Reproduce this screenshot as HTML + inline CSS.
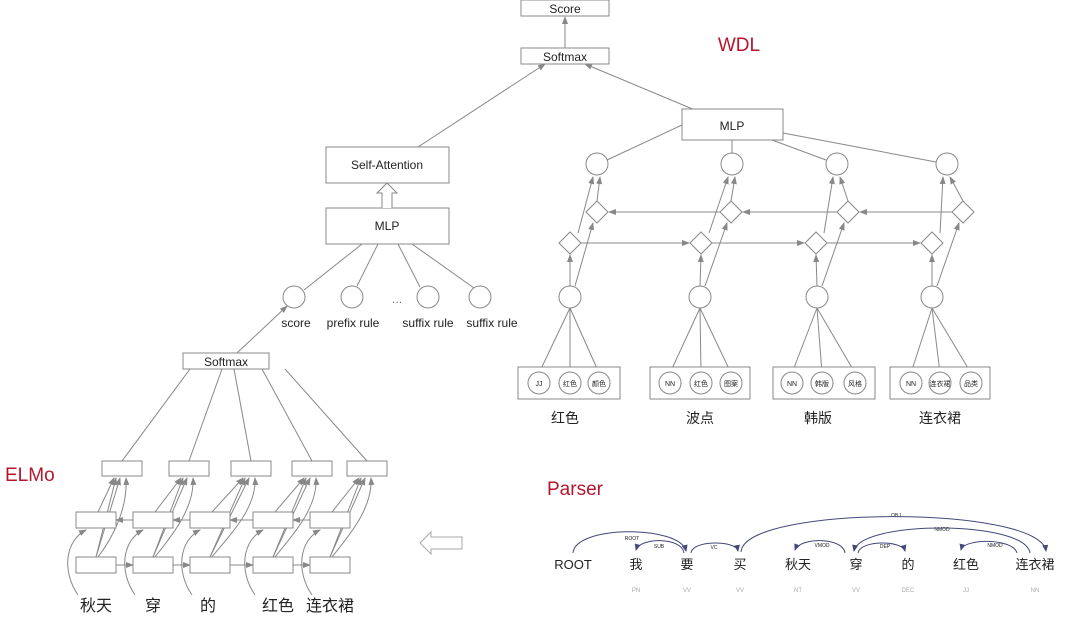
<!DOCTYPE html>
<html><head><meta charset="utf-8"><style>
html,body{margin:0;padding:0;background:#fff}
svg{display:block}
text{font-family:"Liberation Sans","Noto Sans CJK SC",sans-serif;fill:#222}
</style></head><body>
<svg id="s" width="1080" height="622" viewBox="0 0 1080 622" xmlns="http://www.w3.org/2000/svg">
<defs>
<marker id="a" markerWidth="8" markerHeight="8" refX="7" refY="4" orient="auto" markerUnits="userSpaceOnUse"><path d="M0,1 L8,4 L0,7 Z" fill="#888"/></marker>
<marker id="b" markerWidth="7" markerHeight="7" refX="6" refY="3.5" orient="auto" markerUnits="userSpaceOnUse"><path d="M0,0.5 L7,3.5 L0,6.5 Z" fill="#44487a"/></marker>
</defs>
<g id="g" stroke="#888" stroke-width="1" fill="none"></g>
<!-- text -->
<text x="565" y="13" font-size="12" text-anchor="middle">Score</text>
<text x="565" y="61" font-size="12" text-anchor="middle">Softmax</text>
<text x="739" y="51" font-size="19" fill="#b5162e" style="fill:#b5162e" text-anchor="middle">WDL</text>
<text x="732" y="130" font-size="12" text-anchor="middle">MLP</text>
<text x="387" y="169" font-size="12" text-anchor="middle">Self-Attention</text>
<text x="387" y="230" font-size="12" text-anchor="middle">MLP</text>
<text x="397" y="303" font-size="11" text-anchor="middle" style="fill:#666">…</text>
<text x="296" y="327" font-size="12" text-anchor="middle">score</text>
<text x="353" y="327" font-size="12" text-anchor="middle">prefix rule</text>
<text x="428" y="327" font-size="12" text-anchor="middle">suffix rule</text>
<text x="492" y="327" font-size="12" text-anchor="middle">suffix rule</text>
<text x="226" y="366" font-size="12" text-anchor="middle">Softmax</text>
<text x="5" y="481" font-size="19" style="fill:#b5162e">ELMo</text>
<text x="547" y="495" font-size="19" style="fill:#b5162e">Parser</text>
<text x="96" y="611" font-size="16" text-anchor="middle">秋天</text>
<text x="153" y="611" font-size="16" text-anchor="middle">穿</text>
<text x="208" y="611" font-size="16" text-anchor="middle">的</text>
<text x="278" y="611" font-size="16" text-anchor="middle">红色</text>
<text x="330" y="611" font-size="16" text-anchor="middle">连衣裙</text>
<text x="565" y="423" font-size="14" text-anchor="middle">红色</text>
<text x="700" y="423" font-size="14" text-anchor="middle">波点</text>
<text x="818" y="423" font-size="14" text-anchor="middle">韩版</text>
<text x="940" y="423" font-size="14" text-anchor="middle">连衣裙</text>
<g font-size="7" text-anchor="middle">
<text x="539" y="386">JJ</text><text x="570" y="386">红色</text><text x="599" y="386">颜色</text>
<text x="670" y="386">NN</text><text x="701" y="386">红色</text><text x="731" y="386">图案</text>
<text x="792" y="386">NN</text><text x="822" y="386">韩版</text><text x="855" y="386">风格</text>
<text x="911" y="386">NN</text><text x="940" y="386">连衣裙</text><text x="971" y="386">品类</text>
</g>
<g font-size="13" text-anchor="middle">
<text x="573" y="569">ROOT</text><text x="636" y="569">我</text><text x="687" y="569">要</text><text x="740" y="569">买</text><text x="798" y="569">秋天</text><text x="856" y="569">穿</text><text x="908" y="569">的</text><text x="966" y="569">红色</text><text x="1035" y="569">连衣裙</text>
</g>
<g font-size="6" text-anchor="middle" style="fill:#aaa">
<text x="636" y="592" style="fill:#aaa">PN</text><text x="687" y="592" style="fill:#aaa">VV</text><text x="740" y="592" style="fill:#aaa">VV</text><text x="798" y="592" style="fill:#aaa">NT</text><text x="856" y="592" style="fill:#aaa">VV</text><text x="908" y="592" style="fill:#aaa">DEC</text><text x="966" y="592" style="fill:#aaa">JJ</text><text x="1035" y="592" style="fill:#aaa">NN</text>
</g>
<g font-size="5" text-anchor="middle" style="fill:#333">
<text x="632" y="540">ROOT</text><text x="659" y="548">SUB</text><text x="714" y="549">VC</text><text x="896" y="517">OBJ</text><text x="942" y="531">NMOD</text><text x="822" y="547">VMOD</text><text x="885" y="548">DEP</text><text x="995" y="547">NMOD</text>
</g>
<g stroke="#44487a" stroke-width="1" fill="none">
<path d="M573,553 C575,525 680,525 686,551" marker-end="url(#b)"/>
<path d="M684,553 C682,537 640,537 636,550" marker-end="url(#b)"/>
<path d="M691,553 C692,540 736,540 738,551" marker-end="url(#b)"/>
<path d="M741,552 C744,505 1040,505 1046,551" marker-end="url(#b)"/>
<path d="M1030,553 C1025,520 860,520 854,551" marker-end="url(#b)"/>
<path d="M845,553 C843,537 800,537 795,550" marker-end="url(#b)"/>
<path d="M858,553 C860,540 902,540 905,551" marker-end="url(#b)"/>
<path d="M1017,553 C1013,538 964,538 961,550" marker-end="url(#b)"/>
</g>
<path d="M420,543 L431,532 L431,537 L462,537 L462,549 L431,549 L431,554 Z" fill="none" stroke="#aaa"/>
<path d="M382,208 L382,193 L377,193 L387,183 L397,193 L392,193 L392,208" fill="#fff" stroke="#888"/>
</svg>
<script>
var g=document.getElementById('g'),N='http://www.w3.org/2000/svg';
function e(t,a){var x=document.createElementNS(N,t);for(var k in a)x.setAttribute(k,a[k]);g.appendChild(x);return x}
function R(x,y,w,h){e('rect',{x:x,y:y,width:w,height:h,fill:'#fff'})}
function C(x,y,r){e('circle',{cx:x,cy:y,r:r||11,fill:'#fff'})}
function L(a,b,c,d,m){var o={x1:a,y1:b,x2:c,y2:d};if(m)o['marker-end']='url(#a)';e('line',o)}
function P(d,m){var o={d:d};if(m)o['marker-end']='url(#a)';e('path',o)}
function D(x,y){e('path',{d:'M'+x+','+(y-11)+' L'+(x+11)+','+y+' L'+x+','+(y+11)+' L'+(x-11)+','+y+' Z',fill:'#fff'})}
// top
L(565,48,565,17,1);
L(418,147,545,64,1);L(695,110,585,64,1);
// left MLP to circles
L(362,244,304,290);L(378,244,357,286);L(398,244,420,287);L(412,244,474,288);
L(237,353,287,306,1);
// ELMo
var tx=[102,169,231,292,347],mx=[76,133,190,253,310];
// softmax -> tops lines
for(var i=0;i<5;i++){L(tx[i]+20,461,[190,222,234,262,285][i],369);}
for(var i=0;i<5;i++){
 var m=mx[i],t=tx[i];
 L(m+20,557,t+14,478,1);L(m+20,557,t+18,478,1);L(m+22,512,t+12,478,1);
 P('M'+(m+22)+',557 C'+(m+35)+',540 '+(t+26)+',510 '+(t+24)+',478',1);
 P('M'+(m+2)+',595 C'+(m-15)+',570 '+(m-10)+',540 '+(m+10)+',530',1);
 if(i<4){L(m+40,565,mx[i+1],565,1);L(mx[i+1],520,m+40,520,1);}
}
for(var i=0;i<5;i++){R(tx[i],461,40,15);R(mx[i],512,40,16);R(mx[i],557,40,16);}
// right WDL
var tc=[597,732,837,947],ud=[597,731,848,963],ld=[570,701,816,932],lc=[570,700,817,932],bx=[[518,102],[650,100],[773,102],[890,100]];
var sc=[[539,570,599],[670,701,731],[792,822,855],[911,940,971]];
L(682,125,607,160);L(732,140,732,153);L(772,140,826,160);L(783,133,936,162);
for(var i=0;i<4;i++){
 L(ld[i]+8,233,tc[i]-4,177,1);L(ud[i],201,tc[i]+3,177,1);
 L(lc[i]+5,286,ud[i]-4,223,1);L(lc[i],286,ld[i],255,1);
 for(var j=0;j<3;j++)L(lc[i],308,sc[i][j],373);
 if(i<3){L(ld[i]+11,243,ld[i+1]-12,243,1);L(ud[i+1]-11,212,ud[i]+12,212,1);}
 R(bx[i][0],367,bx[i][1],32);
 for(var j=0;j<3;j++)C(sc[i][j],383,11);
 C(tc[i],164);D(ud[i],212);D(ld[i],243);C(lc[i],297);
}
// boxes top
R(521,0,88,16);R(521,48,88,16);R(682,109,101,31);R(326,147,123,36);R(326,208,123,36);R(183,353,86,16);
[294,352,428,480].forEach(function(x){C(x,297)});
// bring texts to front: move g to start (already first) -> texts later in DOM render above
</script>
</body></html>
